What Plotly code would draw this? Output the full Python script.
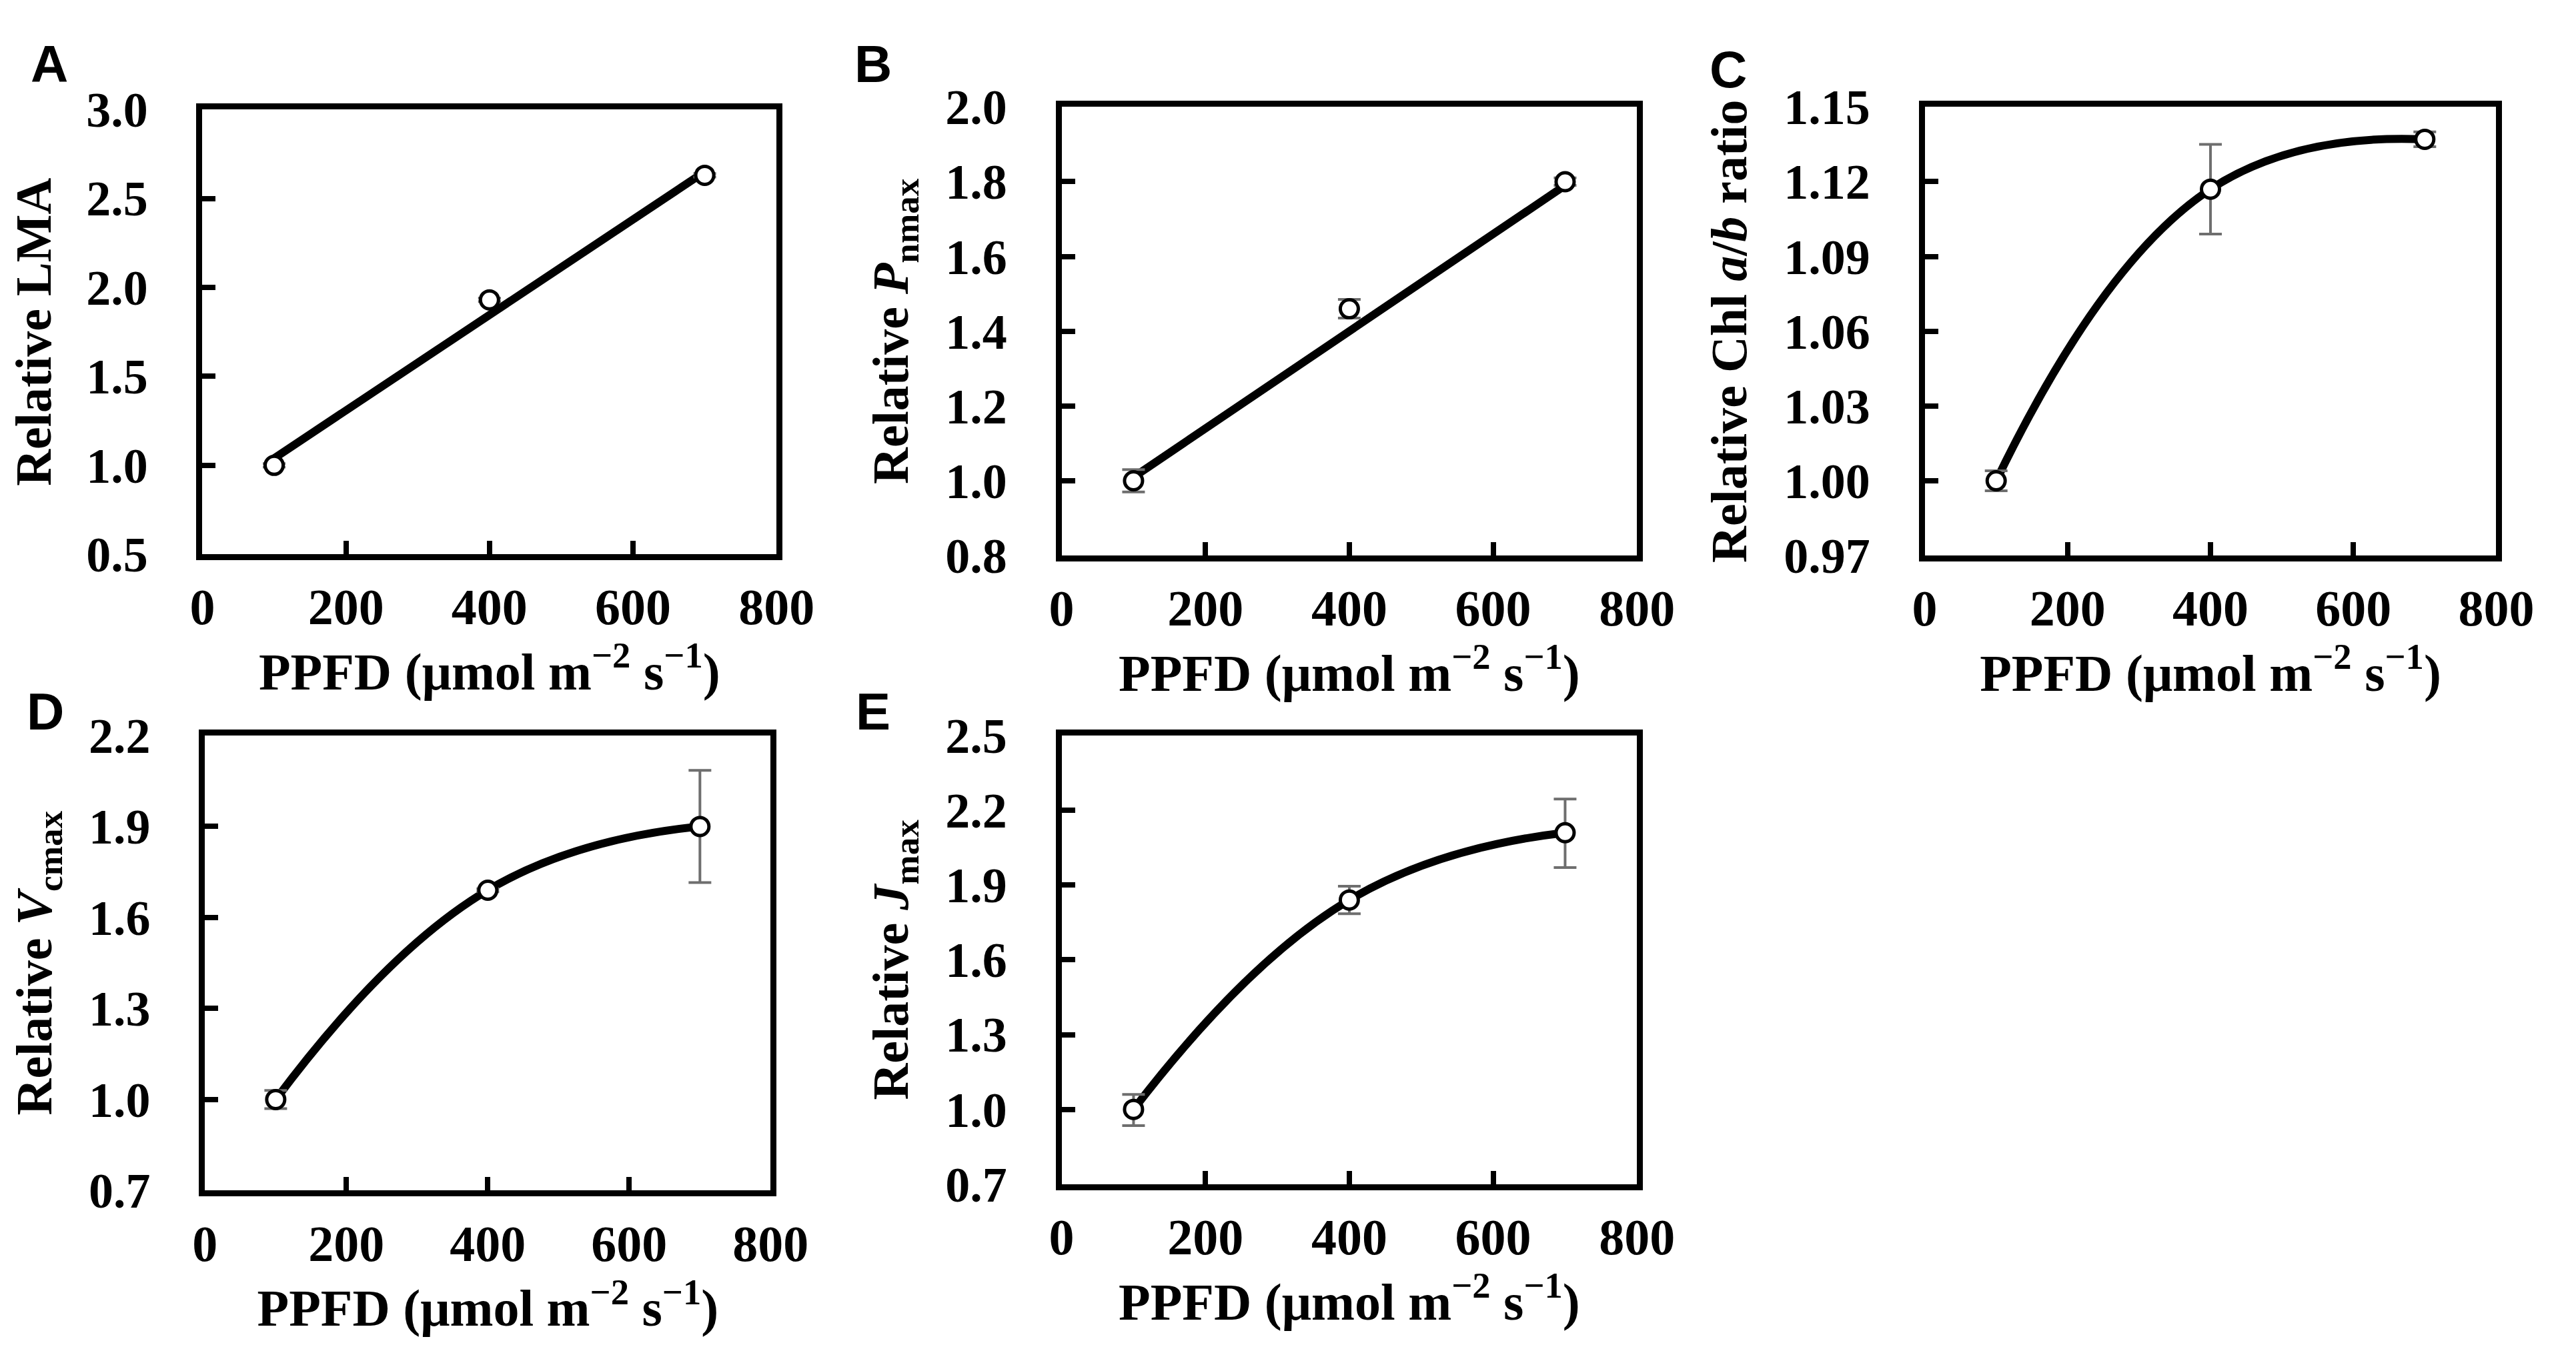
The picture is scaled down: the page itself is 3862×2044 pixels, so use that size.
import plotly.graph_objects as go
from plotly.subplots import make_subplots

#%% Dados
# Níveis de PPFD (µmol m-2 s-1)
ppfd = [100, 400, 700]
fit_x = [100, 700]

# A - LMA relativa
lma = [1.00, 1.93, 2.63]
lma_err = [0.01, 0.01, 0.01]
lma_fit = [1.04, 2.65]

# B - Pnmax relativa
pn = [1.00, 1.46, 1.80]
pn_err = [0.03, 0.025, 0.01]
pn_fit = [1.01, 1.79]

# C - razão Chl a/b relativa
chl = [1.000, 1.117, 1.137]
chl_err = [0.004, 0.018, 0.003]

# D - Vcmax relativa
vc = [1.00, 1.69, 1.90]
vc_err_up = [0.03, 0.005, 0.185]
vc_err_dn = [0.03, 0.005, 0.185]

# E - Jmax relativa
jm = [1.00, 1.84, 2.11]
jm_err_up = [0.06, 0.055, 0.135]
jm_err_dn = [0.065, 0.055, 0.14]

# Eixos y: título, faixa, passo, formato
y_titles = ['Relative LMA',
            'Relative <i>P</i><sub>nmax</sub>',
            'Relative Chl <i>a</i>/<i>b</i> ratio',
            'Relative <i>V</i><sub>cmax</sub>',
            'Relative <i>J</i><sub>max</sub>']
y_ranges = [[0.5, 3.0], [0.8, 2.0], [0.97, 1.15], [0.7, 2.2], [0.7, 2.5]]
y_dticks = [0.5, 0.2, 0.03, 0.3, 0.3]
y_formats = ['.1f', '.1f', '.2f', '.1f', '.1f']
panel_letters = ['A', 'B', 'C', 'D', 'E']
x_title = 'PPFD (μmol m<sup>−2</sup> s<sup>−1</sup>)'

#%% Figura
W, H = 3862, 2044
# caixas dos painéis em pixels (esq, dir, topo, base)
boxes = [(282, 1160, 121, 816),
         (1596, 2476, 117, 818),
         (2916, 3790, 117, 818),
         (286, 1151, 1099, 1810),
         (1596, 2476, 1099, 1800)]
letter_pos = [(48, 50), (1308, 50), (2615, 58), (42, 1062), (1308, 1062)]

fig = make_subplots(rows=2, cols=3, specs=[[{}, {}, {}], [{}, {}, None]])
cells = [(1, 1), (1, 2), (1, 3), (2, 1), (2, 2)]

serif = 'Liberation Serif'
marker = dict(size=27, color='white', line=dict(color='black', width=5))
err_style = dict(color='#6e6e6e', thickness=4, width=17)
curve = dict(color='black', width=12, shape='spline', smoothing=1.3)

def points(y, up, dn=None):
    e = dict(type='data', array=up, visible=True, **err_style)
    if dn is not None:
        e['arrayminus'] = dn
    return go.Scatter(x=ppfd, y=y, mode='markers', marker=marker, error_y=e, showlegend=False)

# A - reta ajustada
fig.add_trace(go.Scatter(x=fit_x, y=lma_fit, mode='lines', line=dict(color='black', width=12),
                         showlegend=False), row=1, col=1)
fig.add_trace(points(lma, lma_err), row=1, col=1)
# B - reta ajustada
fig.add_trace(go.Scatter(x=fit_x, y=pn_fit, mode='lines', line=dict(color='black', width=12),
                         showlegend=False), row=1, col=2)
fig.add_trace(points(pn, pn_err), row=1, col=2)
# C - curva suavizada
fig.add_trace(go.Scatter(x=ppfd, y=chl, mode='lines', line=curve, showlegend=False), row=1, col=3)
fig.add_trace(points(chl, chl_err), row=1, col=3)
# D
fig.add_trace(go.Scatter(x=ppfd, y=vc, mode='lines', line=curve, showlegend=False), row=2, col=1)
fig.add_trace(points(vc, vc_err_up, vc_err_dn), row=2, col=1)
# E
fig.add_trace(go.Scatter(x=ppfd, y=jm, mode='lines', line=curve, showlegend=False), row=2, col=2)
fig.add_trace(points(jm, jm_err_up, jm_err_dn), row=2, col=2)

for i, (r, c) in enumerate(cells):
    l, rt, t, b = boxes[i]
    fig.update_xaxes(row=r, col=c, domain=[l / W, rt / W], range=[0, 800], tick0=0, dtick=200,
                     showline=True, linecolor='black', linewidth=9, mirror=True,
                     ticks='inside', ticklen=20, tickwidth=8, tickcolor='black',
                     showgrid=False, zeroline=False, ticklabelstandoff=5,
                     tickfont=dict(family=serif, size=76, color='black', weight='bold'),
                     title=dict(text=x_title, standoff=20,
                                font=dict(family=serif, size=78, color='black', weight='bold')))
    fig.update_yaxes(row=r, col=c, domain=[1 - b / H, 1 - t / H], range=y_ranges[i],
                     tick0=y_ranges[i][0], dtick=y_dticks[i], tickformat=y_formats[i],
                     showline=True, linecolor='black', linewidth=9, mirror=True,
                     ticks='inside', ticklen=20, tickwidth=8, tickcolor='black',
                     showgrid=False, zeroline=False, ticklabelstandoff=58,
                     tickfont=dict(family=serif, size=74, color='black', weight='bold'),
                     title=dict(text=y_titles[i], standoff=34,
                                font=dict(family=serif, size=76, color='black', weight='bold')))
    fig.add_annotation(text=panel_letters[i], x=letter_pos[i][0] / W, y=1 - letter_pos[i][1] / H,
                       xref='paper', yref='paper', showarrow=False, xanchor='center', yanchor='middle',
                       font=dict(family='Liberation Sans', size=78, color='black', weight='bold'))

fig.update_layout(width=W, height=H, margin=dict(l=0, r=0, t=0, b=0),
                  plot_bgcolor='white', paper_bgcolor='white', showlegend=False)
fig.write_html('out.html')
